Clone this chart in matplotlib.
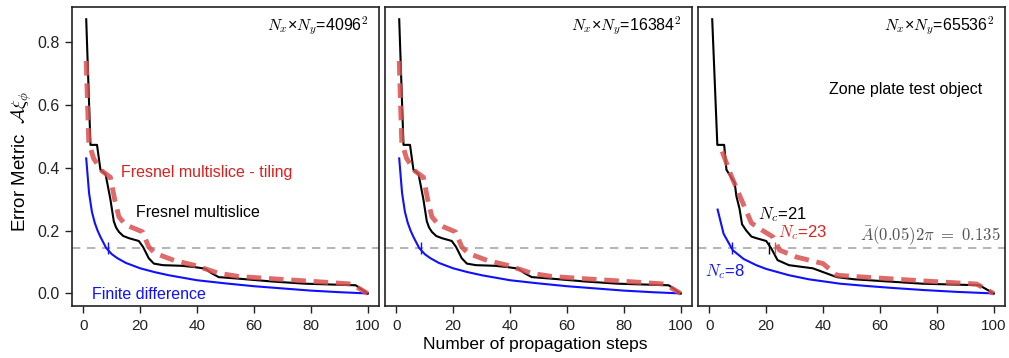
import matplotlib
matplotlib.use("Agg")
import matplotlib.pyplot as plt

plt.rcParams['font.family'] = ['Liberation Sans', 'DejaVu Sans']
plt.rcParams['mathtext.fontset'] = 'cm'

# ---------------- data ----------------
panel_titles = ["4096", "16384", "65536"]
xticks = [0, 20, 40, 60, 80, 100]
threshold = 0.144

# Panels 1 & 2 (Fresnel multislice, black)
fm_steps_a = [1, 2.5, 4.8, 6, 7.8, 9.5, 10.7, 11.5, 12.5, 14, 16, 19.5, 21, 23, 24.8,
              28, 34.6, 39, 42.8, 45, 47.6, 54.7, 66.4, 78, 95.8, 100]
fm_vals_a = [0.873, 0.473, 0.473, 0.394, 0.38, 0.30, 0.23, 0.21, 0.196, 0.183, 0.176,
             0.167, 0.148, 0.112, 0.095, 0.09, 0.088, 0.084, 0.079, 0.065, 0.052,
             0.047, 0.038, 0.031, 0.026, 0.0]
# Panels 1 & 2 (Fresnel multislice - tiling, red dashed)
ft_steps_a = [1, 1.9, 3.6, 5, 6.5, 8, 9.5, 11, 12.5, 14.5, 16.6, 20.8, 22, 23, 25, 27,
              32, 38.9, 44, 47.7, 54.7, 66, 78, 94.3, 100]
ft_vals_a = [0.74, 0.48, 0.43, 0.41, 0.39, 0.38, 0.37, 0.30, 0.244, 0.222, 0.212,
             0.196, 0.17, 0.148, 0.13, 0.122, 0.105, 0.09, 0.075, 0.064, 0.054,
             0.047, 0.04, 0.03, 0.0]
# Panels 1 & 2 (Finite difference, blue)
fd_steps_a = [1, 2, 3, 4, 5, 6, 8, 10, 12, 15, 20, 25, 30, 40, 50, 60, 70, 80, 90, 100]
fd_vals_a = [0.43, 0.32, 0.26, 0.225, 0.20, 0.18, 0.145, 0.125, 0.112, 0.097, 0.08,
             0.068, 0.058, 0.042, 0.032, 0.023, 0.016, 0.009, 0.004, 0.0]

# Panel 3
fm_steps_c = [1, 2.8, 5.2, 6, 8.9, 9.5, 10.6, 11.5, 13, 14.8, 16.5, 20, 21.8, 24, 28,
              36.4, 44.8, 51, 75, 95, 100]
fm_vals_c = [0.873, 0.473, 0.473, 0.394, 0.352, 0.31, 0.27, 0.22, 0.2, 0.181, 0.176,
             0.167, 0.143, 0.106, 0.09, 0.08, 0.052, 0.045, 0.031, 0.026, 0.0]
ft_steps_c = [4.5, 7.8, 11.3, 14.8, 18.4, 22.4, 24.7, 30.6, 40, 44.8, 51, 75, 94, 100]
ft_vals_c = [0.452, 0.372, 0.298, 0.224, 0.202, 0.18, 0.138, 0.116, 0.095, 0.058,
             0.054, 0.04, 0.03, 0.0]
fd_steps_c = [2.9, 5, 8.2, 12, 16.5, 20, 28, 35, 46, 55, 63.6, 75, 87, 100]
fd_vals_c = [0.267, 0.19, 0.138, 0.11, 0.09, 0.078, 0.058, 0.045, 0.031, 0.024,
             0.018, 0.011, 0.005, 0.0]

# threshold crossing steps (N_c) per panel: blue, black, red
nc_blue = [8.6, 8.6, 8]
nc_black = [21, 21, 21]
nc_red = [23, 23, 23]

panels = [
    (fm_steps_a, fm_vals_a, ft_steps_a, ft_vals_a, fd_steps_a, fd_vals_a),
    (fm_steps_a, fm_vals_a, ft_steps_a, ft_vals_a, fd_steps_a, fd_vals_a),
    (fm_steps_c, fm_vals_c, ft_steps_c, ft_vals_c, fd_steps_c, fd_vals_c),
]

# ---------------- figure ----------------
W, H = 1009, 358
fig = plt.figure(figsize=(W / 100, H / 100), dpi=100)

lefts = [72, 385, 698]
pw = 307
top, bottom = 7, 306

red = '#d95050'
blue = '#1010ff'

for i, (fms, fmv, fts, ftv, fds, fdv) in enumerate(panels):
    ax = fig.add_axes([lefts[i] / W, 1 - bottom / H, pw / W, (bottom - top) / H])
    ax.axhline(threshold, color='#a8a8a8', lw=1.2, ls=(0, (5, 4)), zorder=1)
    ax.plot(fds, fdv, color=blue, lw=1.5, zorder=2)
    ax.plot(fms, fmv, color='black', lw=1.5, zorder=3)
    ax.plot(fts, ftv, color=red, lw=3.5, ls=(0, (3, 1.6)), alpha=0.85, zorder=4)
    ax.plot([nc_blue[i]], [threshold], marker='|', ms=9, color=blue, mew=1.0, zorder=5)

    ax.set_xlim(-4, 104)
    ax.set_ylim(-0.04, 0.912)
    ax.set_xticks(xticks)
    ax.tick_params(axis='x', direction='out', length=5, width=1, labelsize=11, pad=4,
                   colors='#222222')
    if i == 0:
        ax.set_yticks([0.0, 0.2, 0.4, 0.6, 0.8])
        ax.set_yticklabels(['0.0', '0.2', '0.4', '0.6', '0.8'])
        ax.tick_params(axis='y', direction='out', length=5, width=1, labelsize=11.5,
                       pad=4, colors='#222222')
    else:
        ax.set_yticks([])
    for s in ax.spines.values():
        s.set_linewidth(1.2)
        s.set_color('#222222')

    ax.text(0.965, 0.975, r'$N_x$×$N_y$=' + panel_titles[i] + r'$^2$',
            transform=ax.transAxes, ha='right', va='top', fontsize=11.5)

    if i == 0:
        ax.text(13.1, 0.384, 'Fresnel multislice - tiling', color='#dc2020',
                fontsize=11.5, ha='left', va='center')
        ax.text(18.4, 0.257, 'Fresnel multislice', color='black',
                fontsize=11.5, ha='left', va='center')
        ax.text(3.2, -0.002, 'Finite difference', color=blue,
                fontsize=11.5, ha='left', va='center')
    if i == 2:
        ax.text(68.9, 0.65, 'Zone plate test object', fontsize=11.5,
                ha='center', va='center')
        ax.text(17, 0.25, r'$N_c$=21', color='black', fontsize=12,
                ha='left', va='center')
        ax.text(24, 0.193, r'$N_c$=23', color='#dc2020', fontsize=12,
                ha='left', va='center')
        ax.text(-1.4, 0.068, r'$N_c$=8', color=blue, fontsize=12,
                ha='left', va='center')
        ax.text(102.5, 0.183, r'$\bar{A}(0.05)2\pi\ =\ 0.135$', color='#555555',
                fontsize=12, ha='right', va='center')
        ax.plot([nc_black[i]], [threshold], marker='|', ms=9, color='black',
                mew=1.0, zorder=5)
        ax.plot([nc_red[i]], [threshold], marker='|', ms=9, color=red,
                mew=1.0, zorder=5)

fig.text(535 / W, 1 - 345 / H, 'Number of propagation steps', ha='center',
         va='center', fontsize=12.5)
fig.text(22 / W, 1 - 162 / H, r'Error Metric  $\mathcal{A}\xi_\phi$', ha='center',
         va='center', rotation=90, fontsize=13.5)

fig.savefig('out.png', dpi=100)
